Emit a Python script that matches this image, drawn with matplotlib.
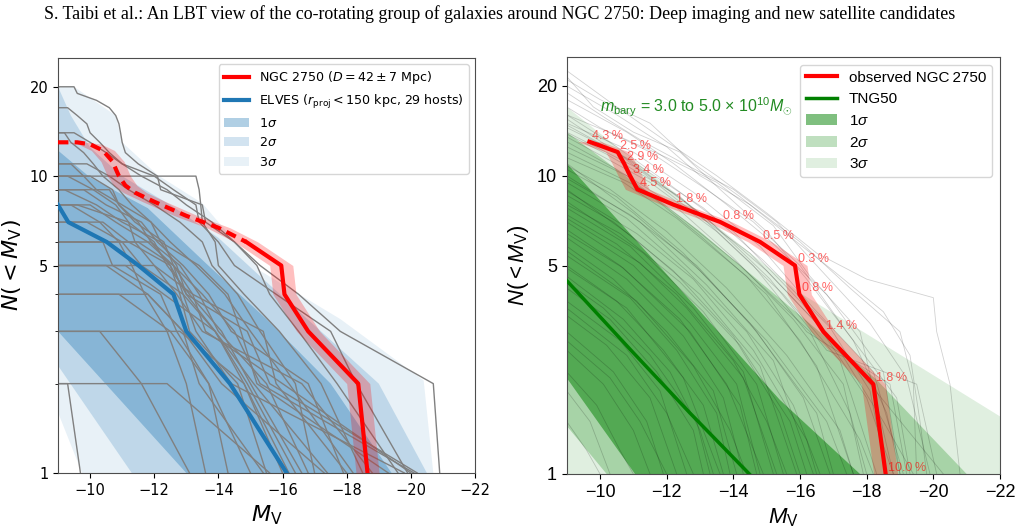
import numpy as np
import matplotlib
matplotlib.use("Agg")
import matplotlib.pyplot as plt
from matplotlib.ticker import FixedLocator, NullLocator, NullFormatter

# custom mathtext (right panel) uses a Helvetica-like face
plt.rcParams['mathtext.rm'] = 'Liberation Sans'
plt.rcParams['mathtext.it'] = 'Liberation Sans:italic'
plt.rcParams['mathtext.bf'] = 'Liberation Sans:bold'

# ---------------- data ----------------
# observed NGC 2750 cumulative luminosity function
obs_N = [13, 12, 11, 10, 9, 8, 7, 6, 5, 4, 3, 2, 1]
obs_M = [-9.68, -10.53, -10.72, -10.9, -11.12, -12.2, -13.6, -14.8, -15.85, -15.98, -16.7, -18.2, -18.57]
obs_prob = ['4.3', '2.5', '2.9', '3.4', '4.5', '1.8', '0.8', '0.5', '0.3', '0.8', '1.4', '1.8', '10.0']
dist_err = 0.36  # mag, from D = 42 +- 7 Mpc

# left panel version: faint (dashed) and bright (solid) parts
obs_faint_M = [-9.0, -9.6, -10.0, -10.4, -10.7, -10.9, -11.1, -11.4, -12.0, -13.0, -14.0, -14.87]
obs_faint_N = [13, 13, 12.8, 12.2, 11.2, 10.0, 9.3, 8.8, 8.2, 7.35, 6.7, 6.0]
obs_bright_M = [-14.87, -15.96, -16.06, -16.8, -18.36, -18.65]
obs_bright_N = [6, 5, 4, 3, 2, 1]

# ELVES median
elves_M = [-9.0, -9.32, -10.52, -11.51, -12.6, -13.0, -14.36, -15.4, -16.13]
elves_N = [8.0, 7, 6, 5, 4, 3, 2, 1.33, 1]

# ELVES scatter bands (upper edge, lower edge)
elves_1s_up = [(-9, 12.2), (-10, 9.9), (-11.8, 7.8), (-13.6, 5.1), (-15.5, 3.3), (-17.5, 2.0), (-19.4, 1)]
elves_1s_lo = [(-13.0, 1), (-9, 3.0)]
elves_2s_up = [(-9, 20), (-9.4, 16), (-10.0, 12.5), (-11.0, 10.0), (-12.5, 8.0), (-14.0, 6.2),
               (-15.3, 4.6), (-19.0, 2.0), (-20.5, 1)]
elves_2s_lo = [(-11.3, 1), (-9, 2.3)]
elves_3s_up = [(-9, 20), (-9.5, 20), (-10.8, 16), (-11.0, 13), (-12.1, 10.1), (-13.5, 8.1),
               (-15.3, 4.8), (-17.8, 3.3), (-20.4, 2.05), (-20.7, 1)]
elves_3s_lo = [(-9.75, 1), (-9, 1.6)]

# individual ELVES hosts: satellite magnitudes, brightest first
elves_hosts = [
    [-20.9, -20.7, -17.8, -16.5, -15.3, -14.5, -13.6, -13.5, -12.2, -12.1, -11.5, -11.1, -11.0, -10.95, -10.9, -10.8, -10.6, -10.2, -9.6, -9.5],
    [-19.6, -17.7, -16.5, -15.6, -15.2, -14.5, -13.8, -13.0, -12.4, -11.6, -11.0, -10.6, -10.3, -10.0, -9.9, -9.6, -9.3],
    [-18.2, -16.2, -15.0, -14.2, -13.3, -12.5, -11.9, -11.3, -10.9, -10.4, -10.1, -9.8, -9.4, -9.2],
    [-19.9, -18.3, -17.5, -15.8, -14.5, -14.0, -13.4, -13.3, -12.6, -12.0, -11.0, -10.5, -10.0, -9.5],
    [-17.0, -16.4, -15.3, -14.6, -13.8, -13.5, -12.8, -12.0, -11.2, -10.6, -9.9],
    [-20.2, -15.6, -14.9, -13.0, -12.7, -12.2, -11.9, -11.0, -10.2, -9.8, -9.4],
    [-18.5, -17.2, -15.9, -14.8, -14.0, -13.9, -13.5, -13.45, -13.4, -13.3],
    [-16.6, -15.0, -14.1, -13.1, -12.4, -12.0, -11.2, -10.8, -10.1, -9.3],
    [-20.0, -16.0, -13.6, -13.2, -12.6, -12.3, -11.4, -10.9, -10.7, -10.0],
    [-17.9, -16.8, -14.4, -13.7, -12.9, -12.1, -11.6, -10.5, -9.8],
    [-15.5, -14.6, -13.1, -12.8, -12.5, -11.9, -11.5, -10.9, -10.6],
    [-19.3, -15.2, -14.7, -14.3, -13.4, -12.2, -11.0, -10.2, -9.2],
    [-16.4, -14.9, -13.9, -12.9, -12.6, -11.8, -10.8, -10.0],
    [-18.0, -15.8, -15.4, -13.2, -12.0, -11.4, -11.2, -9.6],
    [-13.6, -13.0, -12.4, -11.7, -11.3, -10.9, -10.3, -9.4],
    [-17.4, -15.1, -13.9, -13.0, -12.5, -11.2, -10.4],
    [-19.8, -14.4, -13.3, -12.9, -11.6, -11.0, -9.9],
    [-16.8, -15.5, -14.0, -13.4, -12.8, -11.9],
    [-14.3, -13.7, -12.7, -12.2, -10.7, -10.4],
    [-20.1, -15.3, -14.5, -13.5, -12.6, -11.5],
    [-16.0, -14.8, -13.9, -12.3, -11.1],
    [-18.8, -16.6, -13.5, -12.7, -12.0],
    [-15.4, -13.4, -12.9, -11.8, -10.5],
    [-17.3, -14.1, -12.9, -11.8],
    [-15.0, -13.7, -12.5, -10.9],
    [-16.2, -14.8, -12.8],
    [-13.1, -11.6, -10.3],
    [-9.7, -9.3],
    [-15.6, -12.4],
]

# TNG50 median and bands
tng_M = [-9.0, -10.9, -12.7, -14.48]
tng_N = [4.45, 2.62, 1.6, 1.0]
tng_1s_up = [(-9, 11), (-15.4, 1.77), (-17.8, 1)]
tng_1s_lo = [(-11.05, 1), (-9, 2.1)]
tng_2s_up = [(-9, 14), (-13, 6.5), (-18.3, 2.07), (-21, 1)]
tng_2s_lo = [(-10.2, 1), (-9, 1.45)]
tng_3s_up = [(-9, 17), (-12.7, 8), (-16, 4.05), (-22, 1.56), (-22, 1)]
tng_3s_lo = [(-9, 1)]

# individual TNG50 analogue curves (M, N) breakpoints
tng_lines = [
    [(-9, 22.5), (-10.5, 17), (-12, 13), (-13.5, 10), (-15, 7.5), (-16.5, 5.5), (-18, 4.5), (-20, 3.9), (-20.1, 3), (-20.5, 2), (-20.8, 1)],
    [(-9, 21), (-10, 18), (-11.5, 15), (-12.8, 11), (-14.2, 8.5), (-15.5, 6.5), (-17, 4.8), (-18.5, 3.5), (-19.3, 2.5), (-19.6, 1.5), (-19.8, 1)],
    [(-9, 20), (-10.5, 16), (-12, 12.5), (-13, 10), (-14.5, 8), (-16, 6), (-17.5, 4.2), (-19, 3), (-19.4, 2), (-19.5, 1)],
    [(-9, 19), (-10.2, 15.5), (-11.3, 13), (-12.5, 11), (-14, 9), (-15.3, 7), (-16.5, 5), (-18.1, 3.2), (-19.2, 2.1), (-19.9, 1)],
    [(-9, 18), (-10.8, 14), (-12.2, 11), (-13.8, 8), (-15, 6.2), (-16.8, 4), (-18.5, 2.2), (-19.0, 1)],
    [(-9, 17), (-10, 14.5), (-11.5, 12), (-13, 9.3), (-14.6, 7), (-16, 5), (-17.4, 3), (-18.9, 1.8), (-19.3, 1)],
    [(-9, 16), (-10.6, 13.5), (-12, 11.5), (-13.5, 9.5), (-15.2, 6.8), (-16.3, 4.6), (-17.8, 3), (-18.8, 1)],
    [(-9, 21.5), (-9.8, 17), (-11, 14), (-12.4, 12), (-13.6, 9), (-15, 6.5), (-16.2, 4.5), (-17.6, 2.8), (-18.6, 1.6), (-19, 1)],
    [(-9, 15.5), (-11, 11), (-13, 7.5), (-15, 4.8), (-17, 2.8), (-18.5, 1.5), (-19.4, 1)],
    [(-9, 14.5), (-10.5, 12), (-12.5, 8), (-14.5, 5.5), (-16.5, 3.2), (-18, 1.8), (-18.8, 1)],
    [(-9, 13.5), (-11.5, 9.5), (-13.5, 6.5), (-15.5, 4), (-17.2, 2.4), (-18.3, 1)],
    [(-9, 16), (-10.5, 12.5), (-12, 9.5), (-14, 6.5), (-16, 3.8), (-17.8, 2.2), (-20.3, 1)],
    [(-9, 12.5), (-10.8, 10), (-12.6, 7), (-14.2, 5), (-16.3, 3), (-17.5, 1.6), (-18, 1)],
    [(-9, 14), (-11.2, 10.5), (-13.2, 7.2), (-15.1, 4.5), (-16.8, 2.6), (-19.5, 2), (-20.1, 1)],
    [(-9, 13), (-10.5, 10.5), (-12.2, 8), (-14, 5.3), (-15.8, 3.3), (-17.3, 2), (-17.9, 1)],
    [(-9, 15), (-11, 12), (-12.8, 8.8), (-14.8, 5.8), (-16.4, 3.6), (-18.2, 2.2), (-19.1, 1)],
    [(-9, 12), (-11.3, 9), (-13, 6.3), (-15, 4), (-16.5, 2.3), (-17.6, 1)],
    [(-9, 13.8), (-10.2, 11.8), (-12.4, 8.5), (-14.6, 5), (-16.2, 3), (-18.7, 2), (-19.2, 1)],
    [(-9, 11.5), (-10.7, 9.5), (-12.3, 7.2), (-14.4, 4.6), (-16.0, 2.8), (-17.8, 1.3), (-18.2, 1)],
    [(-9, 14.8), (-10.9, 11.3), (-13.1, 7.8), (-14.9, 5.2), (-16.9, 3.1), (-18.1, 1.9), (-18.6, 1)],
    [(-9, 11), (-11, 7.5), (-13, 4.8), (-15, 2.8), (-16.8, 1.5), (-17.4, 1)],
    [(-9, 10.5), (-10.5, 8.5), (-12.5, 5.5), (-14.5, 3.2), (-16.5, 1.6), (-17, 1)],
    [(-9, 10), (-11.2, 7), (-13.2, 4.3), (-15.2, 2.4), (-16.4, 1)],
    [(-9, 9.5), (-10.8, 7.2), (-12.6, 4.8), (-14.4, 3), (-15.8, 1.7), (-16.6, 1)],
    [(-9, 9), (-11, 6.2), (-13, 4), (-14.8, 2.3), (-15.9, 1)],
    [(-9, 8.6), (-10.4, 7), (-12.2, 4.8), (-14, 2.9), (-15.4, 1.6), (-16, 1)],
    [(-9, 8.2), (-11.3, 5.5), (-13.1, 3.5), (-14.7, 2), (-15.5, 1)],
    [(-9, 7.8), (-10.9, 5.8), (-12.8, 3.6), (-14.3, 2.2), (-15.2, 1)],
    [(-9, 7.4), (-10.5, 5.9), (-12.3, 4), (-14, 2.4), (-15, 1.5), (-15.6, 1)],
    [(-9, 7), (-11, 5), (-12.7, 3.2), (-14.1, 2), (-14.8, 1)],
    [(-9, 6.6), (-10.6, 5), (-12.4, 3.3), (-13.8, 2), (-14.9, 1)],
    [(-9, 6.2), (-10.8, 4.5), (-12.5, 2.9), (-13.7, 1.8), (-14.3, 1)],
    [(-9, 5.8), (-10.4, 4.5), (-12, 3), (-13.4, 1.9), (-14.1, 1)],
    [(-9, 5.4), (-10.9, 3.9), (-12.3, 2.6), (-13.5, 1.6), (-13.9, 1)],
    [(-9, 5), (-10.5, 3.8), (-11.9, 2.6), (-13.1, 1.7), (-13.7, 1)],
    [(-9, 4.6), (-10.7, 3.3), (-12.1, 2.2), (-13.0, 1.4), (-13.4, 1)],
    [(-9, 4.2), (-10.3, 3.3), (-11.7, 2.2), (-12.8, 1.4), (-13.1, 1)],
    [(-9, 3.8), (-10.6, 2.8), (-11.8, 1.9), (-12.6, 1)],
    [(-9, 3.4), (-10.2, 2.7), (-11.5, 1.8), (-12.3, 1)],
    [(-9, 3), (-10.4, 2.2), (-11.4, 1.5), (-11.9, 1)],
    [(-9, 2.6), (-10.1, 2), (-11, 1.4), (-11.5, 1)],
    [(-9, 2.2), (-9.9, 1.7), (-10.6, 1.2), (-11, 1)],
    [(-9, 10.8), (-10.3, 9), (-12, 6.5), (-13.8, 4.2), (-15.6, 2.5), (-17.2, 1.4), (-17.6, 1)],
    [(-9, 9.8), (-10.9, 7.4), (-12.9, 5), (-14.7, 3), (-16.1, 1.8), (-16.9, 1)],
    [(-9, 8.9), (-11.1, 6.4), (-12.8, 4.5), (-14.6, 2.6), (-16.2, 1.3), (-16.5, 1)],
    [(-9, 8), (-10.6, 6.4), (-12.4, 4.4), (-14.2, 2.7), (-15.7, 1.5), (-16.2, 1)],
    [(-9, 7.2), (-11.2, 5.1), (-12.6, 3.6), (-14.3, 2.1), (-15.3, 1)],
    [(-9, 6.4), (-10.7, 4.9), (-12.7, 3), (-14.2, 1.7), (-14.7, 1)],
    [(-9, 5.6), (-11.1, 3.8), (-12.8, 2.3), (-13.9, 1.4), (-14.4, 1)],
    [(-9, 4.9), (-10.8, 3.6), (-12.5, 2.1), (-13.6, 1)],
    [(-9, 4.4), (-10.1, 3.6), (-11.5, 2.5), (-12.9, 1.5), (-13.3, 1)],
    [(-9, 3.6), (-10.8, 2.5), (-12, 1.6), (-12.8, 1)],
    [(-9, 2.8), (-10.3, 2.1), (-11.2, 1.5), (-12, 1)],
    [(-9, 1.9), (-9.7, 1.5), (-10.3, 1)],
    [(-9, 1.5), (-9.6, 1.2), (-10, 1)],
]

xticks = [-10, -12, -14, -16, -18, -20, -22]
yticks = [1, 5, 10, 20]

# ---------------- figure ----------------
fig = plt.figure(figsize=(10.23, 5.27), dpi=100)
fig.text(0.488, 0.973, "S. Taibi et al.: An LBT view of the co-rotating group of galaxies around "
         "NGC 2750: Deep imaging and new satellite candidates",
         ha='center', va='center', family='Liberation Serif', fontsize=12.9)

ax1 = fig.add_axes([58 / 1023, 1 - 473 / 527, 417 / 1023, 415 / 527])
ax2 = fig.add_axes([566.7 / 1023, 1 - 474 / 527, 433.3 / 1023, 417 / 527])


def band(ax, up, lo, color, alpha, label):
    pts = up + lo
    xs = [p[0] for p in pts]
    ys = [p[1] for p in pts]
    return ax.fill(xs, ys, color=color, alpha=alpha, lw=0, label=label)[0]


# ---- left: ELVES ----
b1 = band(ax1, elves_1s_up, elves_1s_lo, '#1f77b4', 0.35, r'$1\sigma$')
b2 = band(ax1, elves_2s_up, elves_2s_lo, '#1f77b4', 0.2, r'$2\sigma$')
b3 = band(ax1, elves_3s_up, elves_3s_lo, '#1f77b4', 0.1, r'$3\sigma$')

for sats in elves_hosts:
    n = len(sats)
    xs = [-9.0] + sats[::-1]
    ys = [n] + list(range(n, 0, -1))
    ax1.plot(xs, ys, color='grey', lw=1.0, zorder=2)

left_M = np.array(obs_faint_M + obs_bright_M[1:])
left_N = np.array(obs_faint_N + obs_bright_N[1:])
ax1.fill_betweenx(left_N, left_M - dist_err, left_M + dist_err, color='red', alpha=0.25, lw=0, zorder=3)
l_blue, = ax1.plot(elves_M, elves_N, color='#1f77b4', lw=3, zorder=4,
                   label=r'ELVES ($r_\mathrm{proj}<150$ kpc, 29 hosts)')
ax1.plot(obs_faint_M, obs_faint_N, color='red', lw=3, ls=(0, (2.5, 1.5)), zorder=5)
l_red, = ax1.plot(obs_bright_M, obs_bright_N, color='red', lw=3, zorder=5,
                  label=r'NGC 2750 ($D=42\pm7$ Mpc)')

ax1.legend(handles=[l_red, l_blue, b1, b2, b3], loc='upper right', fontsize=9.1)

# ---- right: TNG50 ----
g1 = band(ax2, tng_1s_up, tng_1s_lo, 'green', 0.5, r'$1\sigma$')
g2 = band(ax2, tng_2s_up, tng_2s_lo, 'green', 0.25, r'$2\sigma$')
g3 = band(ax2, tng_3s_up, tng_3s_lo, 'green', 0.12, r'$3\sigma$')

for line in tng_lines:
    xs = [p[0] for p in line]
    ys = [p[1] for p in line]
    ax2.plot(xs, ys, color='k', lw=0.6, alpha=0.18, zorder=2)

om = np.array(obs_M)
ax2.fill_betweenx(obs_N, om - dist_err, om + dist_err, color='red', alpha=0.25, lw=0, zorder=3)
r_red, = ax2.plot(obs_M, obs_N, color='red', lw=3, zorder=5, label='observed NGC\u20092750')
r_green, = ax2.plot(tng_M, tng_N, color='green', lw=2.5, zorder=4, label='TNG50')

for m, n, p in zip(obs_M, obs_N, obs_prob):
    ax2.annotate(p + '\u2009%', (m, n), xytext=(2, 0), textcoords='offset points',
                 ha='left', va='bottom', color='red', alpha=0.6, fontsize=9,
                 family=['Liberation Sans', 'DejaVu Sans'], zorder=6)

ax2.text(-10.0, 17.0, r'$m_\mathrm{bary}$ = 3.0 to 5.0 $\times$ 10$^{10}$$M_{\odot}$',
         color='forestgreen', fontsize=11.5, family='Liberation Sans', math_fontfamily='custom',
         ha='left', va='center')

leg2 = ax2.legend(handles=[r_red, r_green, g1, g2, g3], loc='upper right',
                  prop={'family': ['Liberation Sans', 'DejaVu Sans'], 'size': 11, 'math_fontfamily': 'custom'})

# ---- axes cosmetics ----
for ax in (ax1, ax2):
    ax.set_yscale('log')
    ax.set_xlim(-9, -22)
    ax.set_ylim(1, 25)
    ax.set_xticks(xticks)
    ax.set_yticks(yticks, [str(t) for t in yticks])
    for s in ax.spines.values():
        s.set_color('0.3')

ax1.yaxis.set_minor_locator(FixedLocator([2, 3, 4, 6, 7, 8, 9]))
ax1.yaxis.set_minor_formatter(NullFormatter())
ax2.yaxis.set_minor_locator(NullLocator())

ax1.tick_params(labelsize=10.5)
ax2.tick_params(labelsize=13, labelfontfamily='Liberation Sans')

ax1.set_xlabel(r'$M_\mathrm{V}$', fontsize=16)
ax1.set_ylabel(r'$N(<M_\mathrm{V})$', fontsize=16)
ax2.set_xlabel(r'$M_\mathrm{V}$', fontsize=16, family='Liberation Sans', math_fontfamily='custom')
ax2.set_ylabel(r'$N(<M_\mathrm{V})$', fontsize=16, family='Liberation Sans', math_fontfamily='custom')

fig.savefig('out.png', dpi=100)
